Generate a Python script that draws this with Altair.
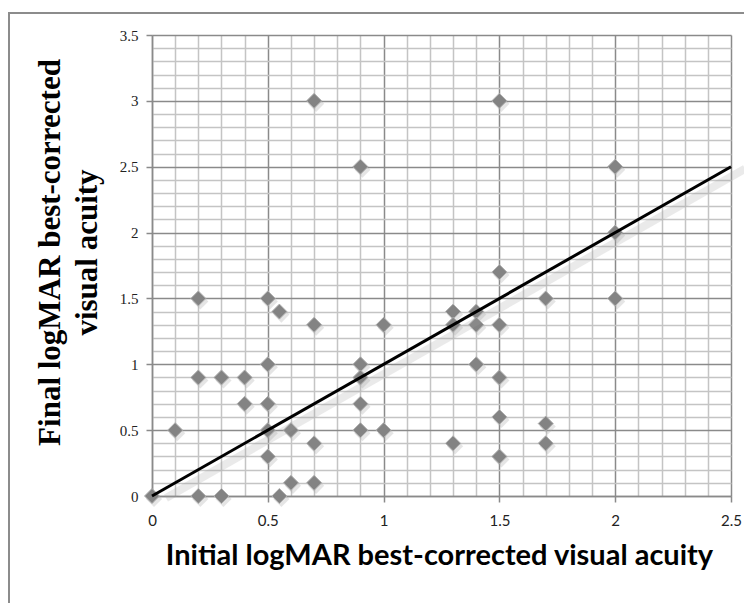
import altair as alt
import pandas as pd

# Initial (x) and final (y) logMAR best-corrected visual acuity
initial_va = [0.0, 0.1, 0.2, 0.2, 0.2, 0.3, 0.3, 0.4, 0.4,
              0.5, 0.5, 0.5, 0.5, 0.5, 0.55, 0.55, 0.6, 0.6,
              0.7, 0.7, 0.7, 0.7, 0.9, 0.9, 0.9, 0.9, 0.9,
              1.0, 1.0, 1.3, 1.3, 1.3, 1.4, 1.4, 1.4,
              1.5, 1.5, 1.5, 1.5, 1.5, 1.5, 1.7, 1.7, 1.7,
              2.0, 2.0, 2.0]
final_va = [0.0, 0.5, 1.5, 0.9, 0.0, 0.9, 0.0, 0.9, 0.7,
            1.5, 1.0, 0.7, 0.5, 0.3, 1.4, 0.0, 0.5, 0.1,
            3.0, 1.3, 0.4, 0.1, 2.5, 1.0, 0.9, 0.7, 0.5,
            1.3, 0.5, 1.4, 1.3, 0.4, 1.4, 1.3, 1.0,
            3.0, 1.7, 1.3, 0.9, 0.6, 0.3, 1.5, 0.55, 0.4,
            2.5, 2.0, 1.5]

# identity reference line y = x
line_x = [0.0, 2.5]
line_y = [0.0, 2.5]

x_ticks = [i / 10 for i in range(26)]
y_ticks = [i / 10 for i in range(36)]

x_title = "Initial logMAR best-corrected visual acuity"
y_title = ["Final logMAR best-corrected", "visual acuity"]

pts = pd.DataFrame({"x": initial_va, "y": final_va})
ln = pd.DataFrame({"x": line_x, "y": line_y})
frame = pd.DataFrame({"k": [0]})

major = "round(datum.value*10) % 5 === 0"

common_axis = dict(
    grid=True,
    gridColor={"condition": {"test": major, "value": "#8a8a8a"}, "value": "#c4c4c4"},
    gridWidth=1.5,
    tickColor="#8a8a8a",
    tickWidth=1.5,
    tickOpacity={"condition": {"test": major, "value": 1}, "value": 0},
    tickSize=6,
    domainColor="#8a8a8a",
    domainWidth=1.5,
    labelExpr=major + " ? '' + datum.value : ''",
    labelOverlap=False,
    labelFlush=False,
    labelColor="#222222",
)

x_axis = alt.Axis(
    values=x_ticks,
    labelFont="Lato",
    labelFontSize=15,
    labelPadding=11,
    title=x_title,
    titleFont="Lato",
    titleFontSize=29,
    titleFontWeight="bold",
    titleColor="#000000",
    titleX=287,
    titleY=68,
    titleAlign="center",
    titleBaseline="alphabetic",
    **common_axis,
)

y_axis = alt.Axis(
    values=y_ticks,
    labelFont="Liberation Serif",
    labelFontSize=15,
    labelPadding=8,
    title=y_title,
    titleFont="Liberation Serif",
    titleFontSize=31,
    titleFontWeight="bold",
    titleColor="#000000",
    titleAngle=270,
    titleX=-102,
    titleY=217,
    titleAlign="center",
    titleBaseline="middle",
    titleLineHeight=37,
    **common_axis,
)

X = alt.X("x:Q", scale=alt.Scale(domain=[0, 2.5], nice=False, zero=False), axis=x_axis)
Y = alt.Y("y:Q", scale=alt.Scale(domain=[0, 3.5], nice=False, zero=False), axis=y_axis)

border = alt.Chart(frame).mark_rect(
    fillOpacity=0, stroke="#8c8c8c", strokeWidth=2
).encode(
    x=alt.value(-143), x2=alt.value(800), y=alt.value(-22), y2=alt.value(800)
)

pt_shadow = alt.Chart(pts).mark_point(
    shape="diamond", filled=True, size=260, color="#a8a8a8", opacity=0.3,
    xOffset=2, yOffset=3
).encode(x=X, y=Y)

points = alt.Chart(pts).mark_point(
    shape="diamond", filled=True, size=225, fill="#838383",
    stroke="#b0b0b0", strokeWidth=1, opacity=1
).encode(x=X, y=Y)

ln_shadow = alt.Chart(ln).mark_line(
    color="#a0a0a0", strokeWidth=8, opacity=0.22, xOffset=14, yOffset=2
).encode(x=X, y=Y)

line = alt.Chart(ln).mark_line(color="#000000", strokeWidth=3).encode(x=X, y=Y)

chart = alt.layer(border, pt_shadow, points, ln_shadow, line).properties(
    width=579,
    height=461,
    padding={"left": 144, "top": 27, "right": 13, "bottom": 107},
    autosize=alt.AutoSizeParams(type="none"),
    background="#ffffff",
).configure_view(stroke=None)

chart.save("out.html", embed_options={"renderer": "svg", "actions": False})
